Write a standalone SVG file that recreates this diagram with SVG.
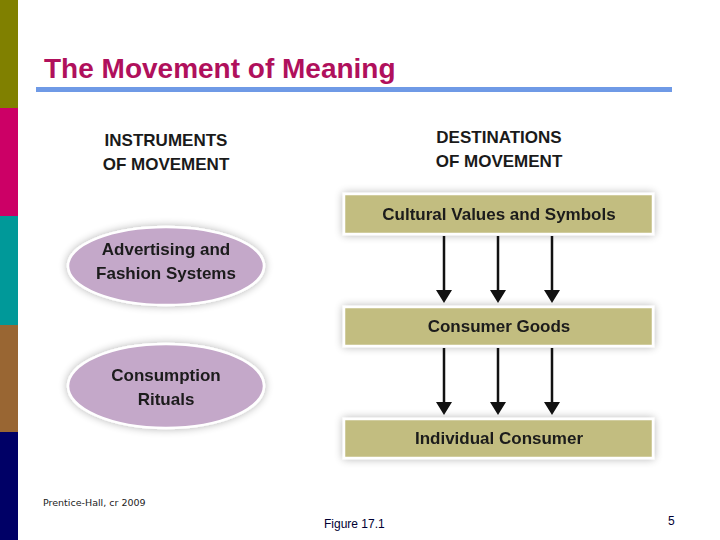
<svg xmlns="http://www.w3.org/2000/svg" width="720" height="540" viewBox="0 0 720 540">
<style>
.h{font-family:"Liberation Sans",Arial,sans-serif;font-weight:bold;font-size:17px;fill:#1a1a1a;text-anchor:middle}
.n{font-family:"Liberation Sans",Arial,sans-serif;font-weight:bold;font-size:17px;fill:#1a1a1a;text-anchor:middle}
.box{fill:#c2bd80;stroke:#fff;stroke-width:2.5}
.ell{fill:#c4a8c9;stroke:#fff;stroke-width:2.5}
.ar{stroke:#111;stroke-width:2.5;fill:none}
.hd{fill:#111}
</style>
<defs>
<filter id="sh" x="-20%" y="-30%" width="140%" height="160%"><feGaussianBlur in="SourceAlpha" stdDeviation="4"/><feComponentTransfer><feFuncA type="linear" slope="0.3"/></feComponentTransfer><feMerge><feMergeNode/><feMergeNode in="SourceGraphic"/></feMerge></filter>
</defs>
<rect width="720" height="540" fill="#fff"/>
<rect x="0" y="0" width="18" height="108" fill="#808000"/>
<rect x="0" y="108" width="18" height="108" fill="#cc0066"/>
<rect x="0" y="216" width="18" height="109" fill="#009999"/>
<rect x="0" y="325" width="18" height="107" fill="#996633"/>
<rect x="0" y="432" width="18" height="108" fill="#000066"/>
<text x="44" y="78" font-family="Liberation Sans,Arial,sans-serif" font-weight="bold" font-size="28" fill="#b0105c">The Movement of Meaning</text>
<rect x="36" y="87" width="636" height="5" fill="#6f9ae6"/>
<text class="h" x="166" y="146">INSTRUMENTS</text>
<text class="h" x="166" y="170">OF MOVEMENT</text>
<text class="h" x="499" y="143">DESTINATIONS</text>
<text class="h" x="499" y="167">OF MOVEMENT</text>
<g id="adv" filter="url(#sh)"><ellipse class="ell" cx="166" cy="266" rx="98" ry="39"/><text class="n" x="166" y="255">Advertising and</text><text class="n" x="166" y="279">Fashion Systems</text></g>
<g id="rit" filter="url(#sh)"><ellipse class="ell" cx="166" cy="386" rx="98" ry="42"/><text class="n" x="166" y="381">Consumption</text><text class="n" x="166" y="405">Rituals</text></g>
<g id="cvs" filter="url(#sh)"><rect class="box" x="344" y="194" width="309" height="40"/><text class="n" x="499" y="220">Cultural Values and Symbols</text></g>
<g id="cg" filter="url(#sh)"><rect class="box" x="344" y="307" width="309" height="39"/><text class="n" x="499" y="332">Consumer Goods</text></g>
<g id="ic" filter="url(#sh)"><rect class="box" x="344" y="419" width="309" height="39"/><text class="n" x="499" y="444">Individual Consumer</text></g>
<g id="connectors">
<path class="ar" d="M444,236V292M498,236V292M552,236V292M444,348V404M498,348V404M552,348V404"/>
<path class="hd" d="M436,290h16l-8,13zM490,290h16l-8,13zM544,290h16l-8,13zM436,402h16l-8,13zM490,402h16l-8,13zM544,402h16l-8,13z"/>
</g>
<text x="43" y="506" font-family="DejaVu Sans,sans-serif" font-size="9.5" fill="#222">Prentice-Hall, cr 2009</text>
<text x="324" y="528" font-family="Liberation Sans,Arial,sans-serif" font-size="12" fill="#000033">Figure 17.1</text>
<text x="668" y="525" font-family="Liberation Sans,Arial,sans-serif" font-size="12" fill="#000033">5</text>
</svg>
